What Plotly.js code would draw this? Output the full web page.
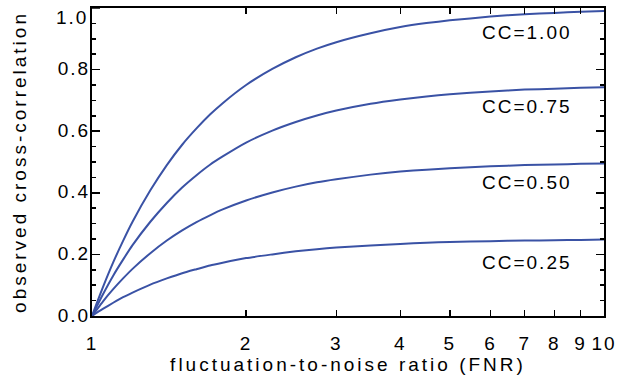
<!DOCTYPE html>
<html><head><meta charset="utf-8">
<script src="https://cdn.plot.ly/plotly-3.0.1.min.js"></script>
<style>body{margin:0;background:#fff}#plot{width:632px;height:381px}
#plot svg text{letter-spacing:2px}
#plot svg text.xtitle, #plot svg text.ytitle{letter-spacing:3px}</style>
</head><body><div id="plot"></div>
<script>
const fnr = [1, 1.02, 1.05, 1.1, 1.15, 1.2, 1.3, 1.4, 1.5, 1.6, 1.7, 1.8, 2, 2.25, 2.5, 2.75, 3, 3.5, 4, 4.5, 5, 6, 7, 8, 9, 10];
const cc100 = [0, 0.039, 0.093, 0.174, 0.244, 0.306, 0.408, 0.490, 0.556, 0.609, 0.654, 0.691, 0.750, 0.802, 0.840, 0.868, 0.889, 0.918, 0.938, 0.951, 0.960, 0.972, 0.980, 0.984, 0.988, 0.990];
const cc075 = [0, 0.029, 0.070, 0.131, 0.183, 0.230, 0.306, 0.367, 0.417, 0.457, 0.491, 0.518, 0.563, 0.602, 0.630, 0.651, 0.667, 0.689, 0.703, 0.713, 0.720, 0.729, 0.735, 0.738, 0.741, 0.743];
const cc050 = [0, 0.019, 0.047, 0.087, 0.122, 0.153, 0.204, 0.245, 0.278, 0.305, 0.327, 0.346, 0.375, 0.401, 0.420, 0.434, 0.444, 0.459, 0.469, 0.475, 0.480, 0.486, 0.490, 0.492, 0.494, 0.495];
const cc025 = [0, 0.010, 0.023, 0.043, 0.061, 0.076, 0.102, 0.122, 0.139, 0.152, 0.164, 0.173, 0.188, 0.200, 0.210, 0.217, 0.222, 0.229, 0.234, 0.238, 0.240, 0.243, 0.245, 0.246, 0.247, 0.248];
const seriesNames = ["CC=1.00", "CC=0.75", "CC=0.50", "CC=0.25"];
const seriesVals = [cc100, cc075, cc050, cc025];
const xTicks = [1, 2, 3, 4, 5, 6, 7, 8, 9, 10];
const xTickText = ["1", "2", "3", "4", "5", "6", "7", "8", "9", "10"];
const yTicks = [0, 0.2, 0.4, 0.6, 0.8, 1.0];
const yTickText = ["0.0", "0.2", "0.4", "0.6", "0.8", "1.0"];
const labelY = [0.919, 0.679, 0.432, 0.175];

const color = "rgb(58,82,165)";
const font = "Liberation Sans, Arial, sans-serif";
const traces = seriesVals.map((v, i) => ({
  x: fnr, y: v, type: "scatter", mode: "lines", name: seriesNames[i],
  line: {color: color, width: 2, shape: "spline", smoothing: 0.5}, showlegend: false
}));
const annotations = seriesNames.map((n, i) => ({
  x: 0.928, y: labelY[i], xref: "paper", yref: "y", text: n, showarrow: false,
  xanchor: "right", yanchor: "middle", font: {family: font, size: 19, color: "#000"}
}));
// the top y tick label sits just inside the frame, as in the reference
const last = yTicks.length - 1;
annotations.push({
  x: 0, y: yTicks[last], xref: "paper", yref: "y", text: yTickText[last], showarrow: false,
  xanchor: "right", yanchor: "top", xshift: -5, yshift: 3, font: {family: font, size: 19, color: "#000"}
});
const layout = {
  width: 632, height: 381,
  margin: {l: 92, r: 28, t: 8, b: 65},
  paper_bgcolor: "#fff", plot_bgcolor: "#fff",
  font: {family: font, size: 19, color: "#000"},
  xaxis: {
    type: "log", range: [0, 1], tickvals: xTicks, ticktext: xTickText,
    ticks: "inside", ticklen: 6, tickwidth: 1.5, tickcolor: "#000",
    showline: true, linewidth: 2, linecolor: "#000", mirror: "allticks",
    showgrid: false, zeroline: false, ticklabelstandoff: 9,
    ticklabeloverflow: "allow",
    tickfont: {family: font, size: 19},
    title: {text: "fluctuation-to-noise ratio (FNR)", font: {family: font, size: 19}, standoff: 4}
  },
  yaxis: {
    range: [0, 1], tickvals: yTicks.slice(0, last), ticktext: yTickText.slice(0, last),
    ticks: "inside", ticklen: 8, tickwidth: 1.5, tickcolor: "#000",
    minor: {dtick: 0.05, ticks: "inside", ticklen: 4, tickwidth: 1.5, tickcolor: "#000", showgrid: false},
    showline: true, linewidth: 2, linecolor: "#000", mirror: "allticks",
    showgrid: false, zeroline: false, ticklabelstandoff: -4, ticklabelshift: -1,
    ticklabeloverflow: "allow",
    tickfont: {family: font, size: 19},
    title: {text: "observed cross-correlation", font: {family: font, size: 19}, standoff: 32}
  },
  shapes: [{type: "line", xref: "paper", yref: "y", x0: 0, x1: 8 / 512, y0: yTicks[last], y1: yTicks[last], line: {color: "#000", width: 1.5}}],
  annotations: annotations
};
Plotly.newPlot("plot", traces, layout, {displayModeBar: false, staticPlot: true});
</script></body></html>
